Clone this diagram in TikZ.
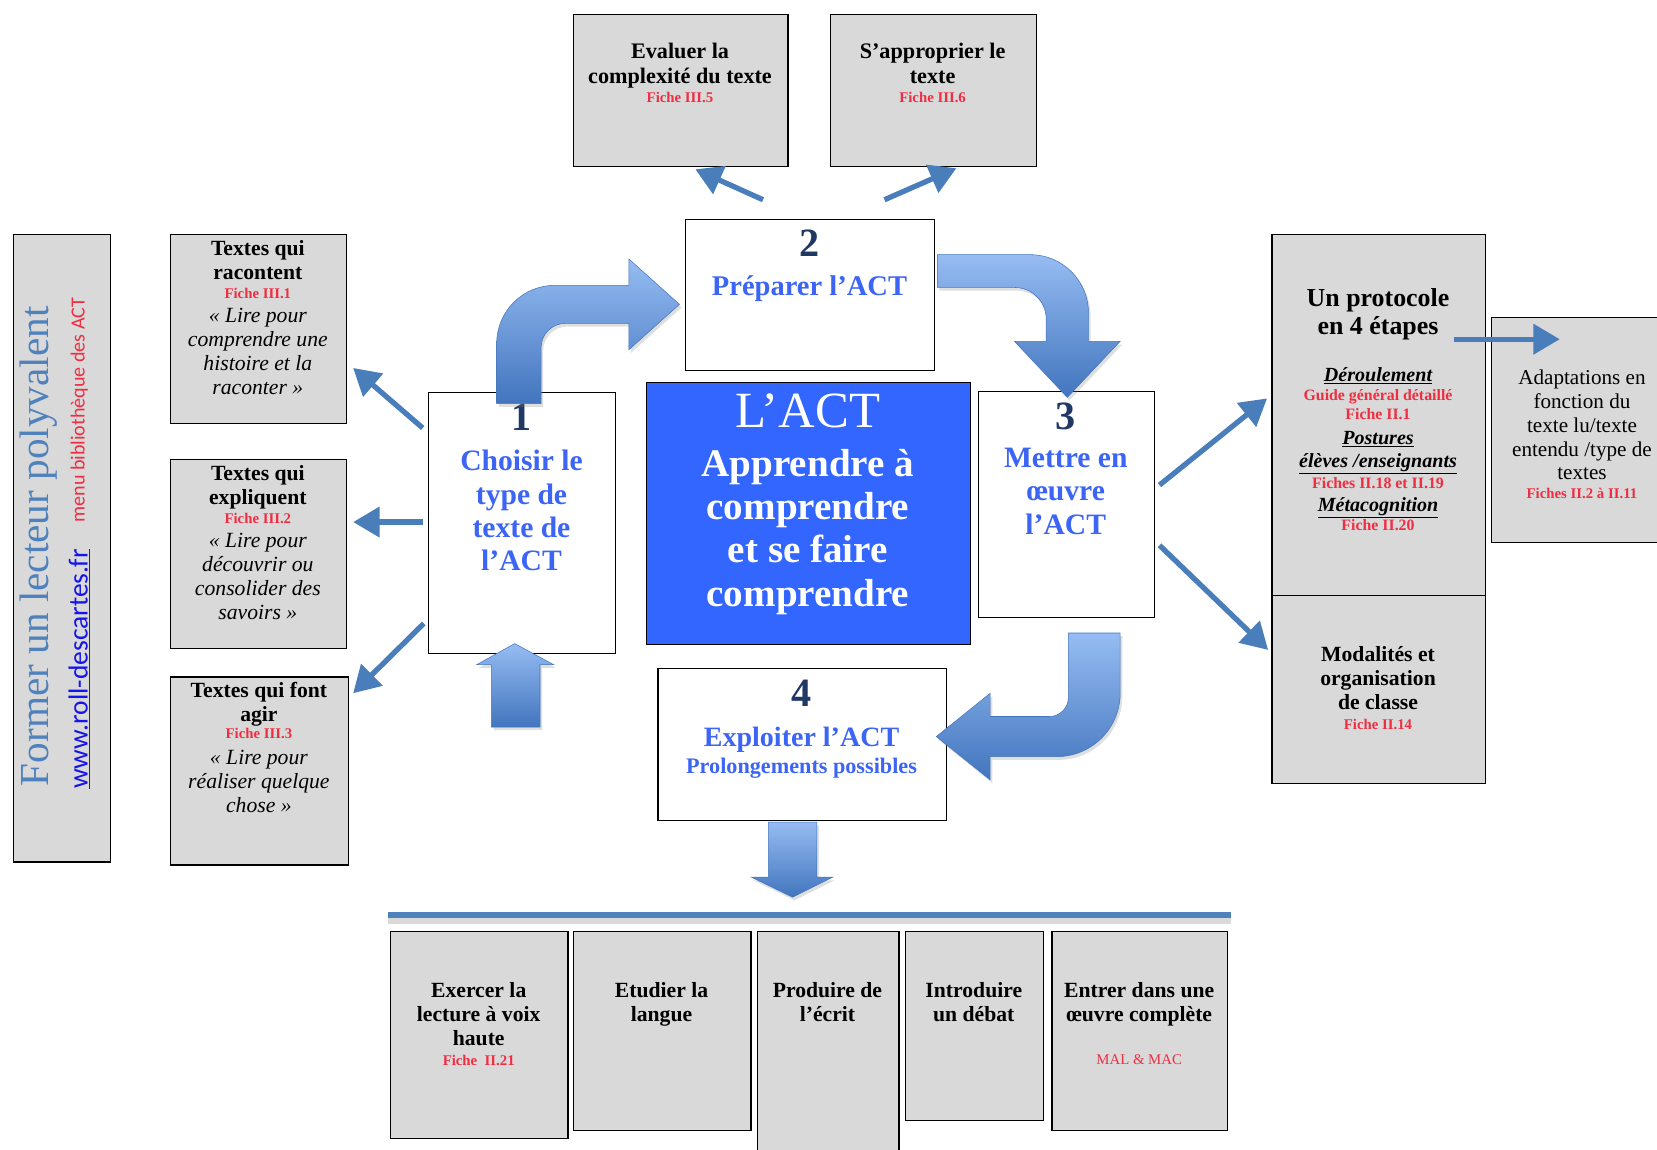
\documentclass[tikz,border=0pt]{standalone}
\usepackage{fontspec}
\setmainfont{Liberation Serif}
\newfontfamily\calib{Carlito}
\usetikzlibrary{arrows.meta,calc,shadows}
\definecolor{boxgray}{RGB}{217,217,217}
\definecolor{centerblue}{RGB}{51,102,255}
\definecolor{steptxt}{RGB}{60,100,245}
\definecolor{navy}{RGB}{31,56,100}
\definecolor{arrblue}{RGB}{74,126,187}
\definecolor{arrlight}{RGB}{150,188,242}
\definecolor{arrdark}{RGB}{66,117,190}
\definecolor{redtxt}{RGB}{240,45,65}
\definecolor{formblue}{RGB}{79,129,189}
\definecolor{urlblue}{RGB}{20,20,235}
\definecolor{lineblue}{RGB}{79,129,189}
\newcommand\fs[2]{\fontsize{#1}{#2}\selectfont}
\tikzset{
  gbox/.style={draw=black, line width=1.2pt, fill=boxgray, inner sep=0pt, anchor=north west},
  wbox/.style={draw=black, line width=1.2pt, fill=white, inner sep=0pt, anchor=north west},
  txt/.style={inner sep=0pt, align=center, anchor=north},
  ttl/.style={txt, font=\fs{20.5}{22.5}\bfseries},
  fic/.style={txt, font=\fs{14}{18}\bfseries, text=redtxt},
  ita/.style={txt, font=\fs{20.5}{22.5}\itshape},
  num/.style={txt, font=\fs{38}{40}\bfseries, text=navy},
  stp/.style={txt, font=\fs{28}{31.5}\bfseries, text=steptxt},
  thinarr/.style={draw=arrblue, line width=5pt, -{Triangle[length=25pt,width=28pt]}},
  blockarr/.style={top color=arrlight, bottom color=arrdark, draw=arrdark, line width=0.5pt,
     drop shadow={shadow xshift=2pt, shadow yshift=-3pt, opacity=0.25}},
}
\begin{document}
\begin{tikzpicture}[x=1pt,y=-1pt]
\useasboundingbox (0,0) rectangle (1568,1088);

% left vertical banner
\node[gbox, minimum width=92pt, minimum height=594pt] (side) at (12,221) {};
\node[rotate=90, inner sep=0pt, text=formblue, font=\fs{39}{44}] (former) at (37,517) {Former un lecteur polyvalent};
\node[rotate=90, inner sep=0pt, text=urlblue, font=\calib\fs{26}{30}] (url) at (75,633) {\underline{www.roll-descartes.fr}};
\node[rotate=90, inner sep=0pt, text=redtxt, font=\calib\fs{19}{22}] (menu) at (75,388) {menu bibliothèque des ACT};

% left column
\node[gbox, minimum width=166pt, minimum height=179pt] (rac) at (161,221) {};
\node[ttl] (racT) at (244,227.6) {Textes qui\\racontent};
\node[fic] (racF) at (244,273) {Fiche III.1};
\node[ita] (racI) at (244,291.6) {« Lire pour\\comprendre une\\histoire et la\\raconter »};

\node[gbox, minimum width=166pt, minimum height=179pt] (exp) at (161,434) {};
\node[ttl] (expT) at (244,440.6) {Textes qui\\expliquent};
\node[fic] (expF) at (244,485) {Fiche III.2};
\node[ita] (expI) at (244,504.6) {« Lire pour\\découvrir ou\\consolider des\\savoirs »};

\node[gbox, minimum width=168pt, minimum height=178pt] (agir) at (161,640) {};
\node[ttl] (agirT) at (245,645.6) {Textes qui font\\agir};
\node[fic] (agirF) at (245,689) {Fiche III.3};
\node[ita] (agirI) at (245,709.6) {« Lire pour\\réaliser quelque\\chose »};

% top boxes
\node[gbox, minimum width=203pt, minimum height=144pt] (eval) at (542,13) {};
\node[txt, font=\fs{21}{24}\bfseries] (evalT) at (643.5,40.4) {Evaluer la\\complexité du texte};
\node[fic] (evalF) at (643.5,87) {Fiche III.5};

\node[gbox, minimum width=195pt, minimum height=144pt] (appr) at (785,13) {};
\node[txt, font=\fs{21}{24}\bfseries] (apprT) at (882.5,40.4) {S’approprier le\\texte};
\node[fic] (apprF) at (882.5,87) {Fiche III.6};

% steps
\node[wbox, minimum width=236pt, minimum height=143pt] (b2) at (648,207) {};
\node[num] (n2) at (766,217) {2};
\node[txt, font=\fs{27}{30}\bfseries, text=steptxt] (b2T) at (766,261) {Préparer l’ACT};

\node[wbox, minimum width=177pt, minimum height=247pt] (b1) at (405,371) {};
\node[num] (n1) at (493.5,382) {1};
\node[stp] (b1T) at (493.5,426) {Choisir le\\type de\\texte de\\l’ACT};

\node[draw=black, line width=1.2pt, fill=centerblue, inner sep=0pt, anchor=north west,
      minimum width=307pt, minimum height=248pt] (act) at (611,361) {};
\node[txt, font=\fs{48}{50}, text=white] (actT) at (764.5,372) {L’ACT};
\node[txt, font=\fs{37}{41}\bfseries, text=white] (actS) at (764.5,424.7) {Apprendre à\\comprendre\\et se faire\\comprendre};

\node[wbox, minimum width=167pt, minimum height=214pt] (b3) at (925,370) {};
\node[num] (n3) at (1008.5,381) {3};
\node[stp] (b3T) at (1008.5,424) {Mettre en\\œuvre\\l’ACT};

\node[wbox, minimum width=273pt, minimum height=144pt] (b4) at (622,632) {};
\node[num] (n4) at (758.5,643) {4};
\node[txt, font=\fs{26.5}{30}\bfseries, text=steptxt] (b4T) at (758.5,687.5) {Exploiter l’ACT};
\node[txt, font=\fs{21}{23}\bfseries, text=steptxt] (b4S) at (758.5,716.8) {Prolongements possibles};

% right side
\node[gbox, minimum width=202pt, minimum height=342pt] (proto) at (1203,221) {};
\node[txt, font=\fs{24.5}{26}\bfseries] (protoT) at (1304,273) {Un protocole\\en 4 étapes};
\node[txt, font=\fs{19}{22}\bfseries\itshape] (der) at (1304,348) {\underline{Déroulement}};
\node[fic, font=\fs{15}{18}\bfseries] (guide) at (1304,368.6) {Guide général détaillé\\Fiche II.1};
\node[txt, font=\fs{19}{22}\bfseries\itshape] (post) at (1304,408) {\underline{Postures}\\\underline{élèves /enseignants}};
\node[fic, font=\fs{15}{18}\bfseries] (f1819) at (1304,451.6) {Fiches II.18 et II.19};
\node[txt, font=\fs{19}{22}\bfseries\itshape] (meta) at (1304,471) {\underline{Métacognition}};
\node[fic, font=\fs{15}{18}\bfseries] (f20) at (1304,491.6) {Fiche II.20};

\node[gbox, minimum width=202pt, minimum height=178pt] (moda) at (1203,563) {};
\node[ttl] (modaT) at (1304,611.6) {Modalités et\\organisation\\de classe};
\node[fic] (modaF) at (1304,680) {Fiche II.14};

\node[gbox, minimum width=172pt, minimum height=213pt] (adapt) at (1411,300) {};
\node[txt, font=\fs{20}{22.5}] (adaptT) at (1497,350) {Adaptations en\\fonction du\\texte lu/texte\\entendu /type de\\textes};
\node[fic] (adaptF) at (1497,462) {Fiches II.2 à II.11};

% bottom line
\coordinate (lineL) at (367,866);
\coordinate (lineR) at (1165,866);
\draw[line width=6pt, black!15] ([yshift=-5pt]lineL) -- ([yshift=-5pt]lineR);
\draw[line width=6pt, lineblue] (lineL) -- (lineR);

% bottom boxes
\node[gbox, minimum width=168pt, minimum height=196pt] (ex) at (369,881) {};
\node[ttl] (exT) at (453,929.6) {Exercer la\\lecture à voix\\haute};
\node[fic] (exF) at (453,998) {Fiche \ II.21};

\node[gbox, minimum width=168pt, minimum height=188pt] (etu) at (542,881) {};
\node[ttl] (etuT) at (626,929.6) {Etudier la\\langue};

\node[gbox, minimum width=134pt, minimum height=230pt] (prod) at (716,881) {};
\node[ttl] (prodT) at (783,929.6) {Produire de\\l’écrit};

\node[gbox, minimum width=131pt, minimum height=179pt] (intro) at (856,881) {};
\node[ttl] (introT) at (921.5,929.6) {Introduire\\un débat};

\node[gbox, minimum width=166pt, minimum height=188pt] (entr) at (995,881) {};
\node[ttl] (entrT) at (1078,929.6) {Entrer dans une\\œuvre complète};
\node[txt, font=\fs{14}{16}, text=redtxt] (entrF) at (1078,998) {MAL \& MAC};

% block arrows
\path[blockarr] (470,382) -- (470,325) .. controls (470,294.6) and (494.6,270) .. (525,270)
  -- (595,270) -- (595,245) -- (643,288) -- (595,331) -- (595,306) -- (535,306)
  .. controls (522.3,306) and (512,316.3) .. (512,329) -- (512,382) -- cycle;
\path[blockarr] (887,241) -- (975,241) .. controls (1005.4,241) and (1030,265.6) .. (1030,296)
  -- (1030,323) -- (1060,323) -- (1010,376) -- (960,323) -- (990,323) -- (990,302)
  .. controls (990,285.4) and (976.6,272) .. (960,272) -- (887,272) -- cycle;
\path[blockarr] (1011,599) -- (1060,599) -- (1060,656) .. controls (1060,689.1) and (1033.1,716) .. (1000,716)
  -- (937,716) -- (937,738) -- (886,697) -- (937,656) -- (937,678) -- (993,678)
  .. controls (1002.9,678) and (1011,669.9) .. (1011,660) -- cycle;
\path[blockarr] (465,688) -- (465,629) -- (451,629) -- (487,609) -- (524,629) -- (511,629) -- (511,688) -- cycle;
\path[blockarr] (727,778) -- (773,778) -- (773,830) -- (788,830) -- (750,849) -- (711,830) -- (727,830) -- cycle;

% thin arrows
\draw[thinarr] ($(b2.north west)+(74,-18)$) -- ($(eval.south west)+(116,2)$);
\draw[thinarr] ($(b2.north west)+(189,-18)$) -- ($(appr.south west)+(120,1)$);
\draw[thinarr] ($(b1.north west)+(-5,34)$) -- ($(rac.south east)+(6,-53)$);
\draw[thinarr] ($(b1.north west)+(-5,123)$) -- ($(exp.north east)+(6,60)$);
\draw[thinarr] ($(b1.north west)+(-4,219)$) -- ($(agir.north east)+(4,16)$);
\draw[thinarr] ($(b3.north east)+(4,89)$) -- ($(proto.north west)+(-4,156)$);
\draw[thinarr] ($(b3.north east)+(4,146)$) -- ($(moda.north west)+(-3,52)$);
\draw[thinarr] ($(proto.north east)+(-30,100)$) -- ($(adapt.north west)+(65,21)$);
\end{tikzpicture}
\end{document}
